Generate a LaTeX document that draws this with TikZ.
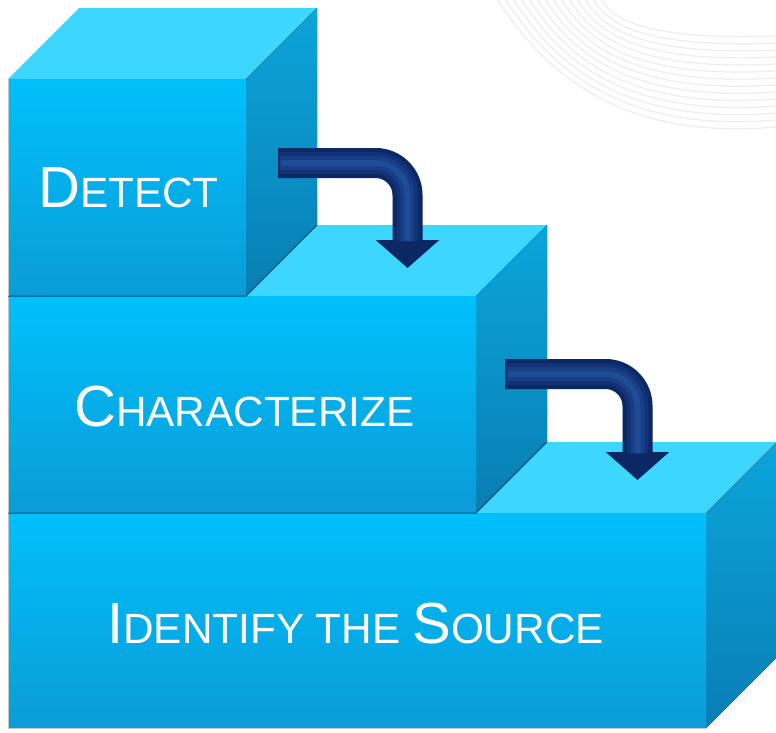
\documentclass[tikz,border=0pt]{standalone}
\usepackage{fontspec}
\setmainfont{Liberation Sans}
\usetikzlibrary{arrows.meta}
\definecolor{frontT}{RGB}{0,192,250}
\definecolor{frontB}{RGB}{10,156,216}
\definecolor{topF}{RGB}{60,214,255}
\definecolor{sideT}{RGB}{12,165,218}
\definecolor{sideB}{RGB}{8,126,180}
\definecolor{navy}{RGB}{12,40,100}
\definecolor{navyA}{RGB}{17,50,116}
\definecolor{navyB}{RGB}{23,62,134}
\definecolor{navyC}{RGB}{30,76,150}
\definecolor{bgline}{RGB}{238,238,238}
\newcommand\mybig[1]{{\fontsize{58pt}{60pt}\selectfont #1}}
\newcommand\mysmall[1]{{\fontsize{42.3pt}{44pt}\selectfont #1}}
\begin{document}
\begin{tikzpicture}[x=1pt,y=-1pt,
  front/.style={top color=frontT,bottom color=frontB},
  topface/.style={fill=topF},
  side/.style={top color=sideT,bottom color=sideB},
  edgeshade/.style={draw=black,opacity=.25,line width=1.5pt},
  label/.style={anchor=base west,inner sep=0pt,text=white},
  arrowline/.style={draw=navy,line width=30pt,rounded corners=32pt,-{Triangle[width=62pt,length=28pt]}},
  arrowhl/.style={line width=#1,rounded corners=32pt},
  arrowsh/.style={draw=black,line width=30pt,rounded corners=32pt,opacity=.12},
  bgcurve/.style={draw=bgline,line width=1.2pt}]
\useasboundingbox (0,0) rectangle (776,732);
\fill[white] (0,0) rectangle (776,732);
% background curves
\foreach \i in {0,...,13}{
  \draw[bgcurve] ({498+8*\i},0) .. controls ({560+4*\i},{98-6*\i}) and (650,{138-7.5*\i}) .. (776,{127-7*\i});
}
% bottom box
\fill[topface] (8,513) -- (79,442) -- (777,442) -- (706,513) -- cycle;
\fill[side] (706,513) -- (777,442) -- (777,657) -- (706,728) -- cycle;
\fill[front] (8,513) rectangle (706,728);
\draw[black!22,line width=1pt] (8,513) -- (8,728) -- (706,728);
% middle box
\fill[topface] (8,296) -- (79,225) -- (547,225) -- (476,296) -- cycle;
\fill[side] (476,296) -- (547,225) -- (547,442) -- (476,513) -- cycle;
\fill[front] (8,296) rectangle (476,513);
\draw[edgeshade] (8,513) -- (476,513) -- (547,442);
\draw[black!22,line width=1pt] (8,296) -- (8,513);
% top box
\fill[topface] (8,79) -- (79,8) -- (317,8) -- (246,79) -- cycle;
\fill[side] (246,79) -- (317,8) -- (317,225) -- (246,296) -- cycle;
\fill[front] (8,79) rectangle (246,296);
\draw[edgeshade] (8,296) -- (246,296) -- (317,225);
\draw[black!22,line width=1pt] (8,79) -- (8,296);
% labels
\node[label] (detect) at (38,207) {\mybig{D}\mysmall{ETECT}};
\node[label] (charac) at (74,426) {\mybig{C}\mysmall{HARACTERIZE}};
\node[label] (ident) at (107,643) {\mybig{I}\mysmall{DENTIFY THE }\mybig{S}\mysmall{OURCE}};
% arrows
\coordinate (a1s) at (278,163);
\coordinate (a1b) at (407.5,241);
\coordinate (a1t) at (407.5,268);
\coordinate (a2s) at (505,374);
\coordinate (a2b) at (637.5,453);
\coordinate (a2t) at (637.5,480);
\begin{scope}[shift={(3,4)}]
  \draw[arrowsh] (a1s) -| (a1b);
  \draw[arrowsh] (a2s) -| (a2b);
\end{scope}
\draw[arrowline] (a1s) -| (a1t);
\draw[arrowhl=22pt,draw=navyA] ([xshift=1pt]a1s) -| (a1b);
\draw[arrowhl=14pt,draw=navyB] ([xshift=2pt]a1s) -| (a1b);
\draw[arrowhl=6pt,draw=navyC] ([xshift=3pt]a1s) -| (a1b);
\draw[arrowline] (a2s) -| (a2t);
\draw[arrowhl=22pt,draw=navyA] ([xshift=1pt]a2s) -| (a2b);
\draw[arrowhl=14pt,draw=navyB] ([xshift=2pt]a2s) -| (a2b);
\draw[arrowhl=6pt,draw=navyC] ([xshift=3pt]a2s) -| (a2b);
\end{tikzpicture}
\end{document}
